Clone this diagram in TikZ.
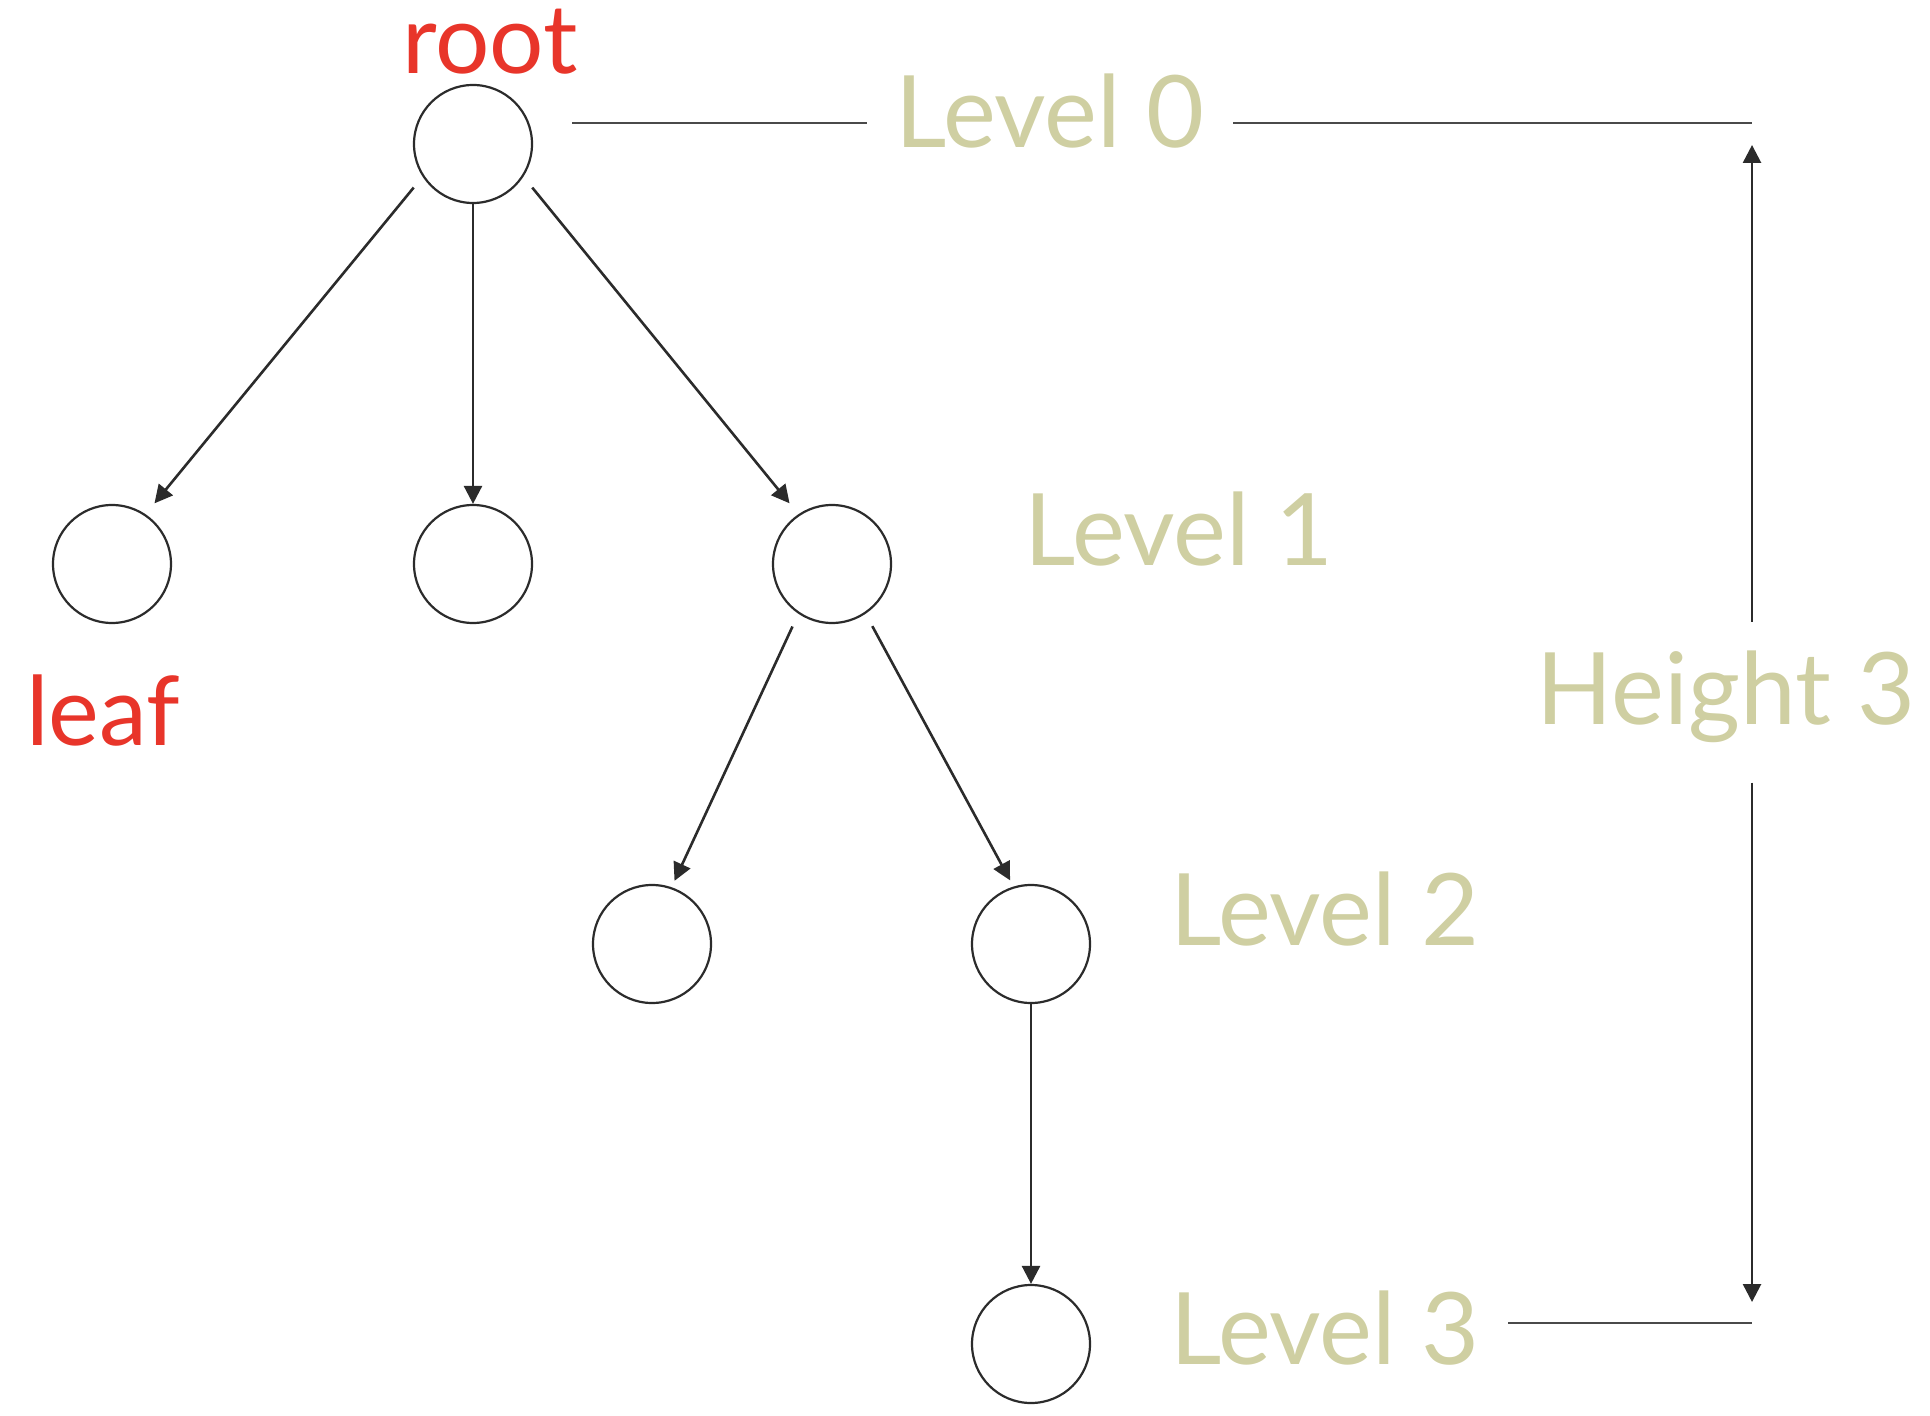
\documentclass[tikz,border=0pt]{standalone}
\usepackage{fontspec}
\setmainfont{Lato}
\usepackage{xcolor}
\usepackage{tikz}
\usetikzlibrary{positioning,arrows.meta}
\definecolor{ink}{HTML}{2B2B2B}
\definecolor{tagred}{HTML}{E8352A}
\definecolor{sage}{HTML}{CFCFA2}
\definecolor{rule}{HTML}{4A4A4A}

\begin{document}
\begin{tikzpicture}[
  x=0.5pt, y=-0.5pt,
  vertex/.style  = {circle, draw=ink, line width=1.1pt, minimum size=59pt, inner sep=0pt},
  flow/.style    = {-{Triangle[length=9pt,width=9pt]}, line width=1.3pt, draw=ink},
  slant/.style   = {flow, shorten <=7pt, shorten >=7pt},
  lvl/.style     = {text=sage, font=\fontsize{50}{60}\selectfont, anchor=base,
                    inner xsep=14pt, inner ysep=14pt},
  tag/.style     = {text=tagred, font=\fontsize{48}{58}\selectfont, anchor=base, inner sep=0pt},
  rulebar/.style = {draw=rule, line width=1pt},
]
\useasboundingbox (0,0) rectangle (1930,1416);

% the tree
\node[vertex] (root) at (473,144) {};
\node[vertex] (a) at (112,564) {};
\node[vertex] (b) at (473,564) {};
\node[vertex] (c) at (832,564) {};
\node[vertex] (ca) at (652,944) {};
\node[vertex] (cb) at (1031,944) {};
\node[vertex] (cbx) at (1031,1344) {};

\node[tag] (rootlbl) at (490,74) {root};
\node[tag] (leaflbl) at (103,745) {leaf};

\draw[slant] (root.213) -- (a.56);
\draw[flow] (root) -- (b);
\draw[slant] (root.-33) -- (c.124);
\draw[slant, shorten >=3.5pt] (c.236) -- (ca.71);
\draw[slant, shorten >=3.5pt] (c.-56) -- (cb.107);
\draw[flow] (cb) -- (cbx);

% levels and height
\node[lvl] (lv0) at (1050,148) {Level 0};
\node[lvl] (lv1) at (1179,566) {Level 1};
\node[lvl] (lv2) at (1325,945) {Level 2};
\node[lvl] (lv3) at (1325,1364) {Level 3};
\node[lvl] (ht) at (1726,724) {Height 3};

\coordinate (l0a) at (572,123);
\coordinate (h0) at (1752,123);
\coordinate (h3) at (1752,1323);
\coordinate (htop) at (1752,145);
\coordinate (hbot) at (1752,1302);

\draw[rulebar] (l0a) -- (lv0.west |- l0a);
\draw[rulebar] (lv0.east |- h0) -- (h0);
\draw[rulebar] (lv3.east |- h3) -- (h3);
\draw[flow] (ht.north -| htop) -- (htop);
\draw[flow] ([yshift=-6pt]ht.south -| hbot) -- (hbot);

\end{tikzpicture}
\end{document}
